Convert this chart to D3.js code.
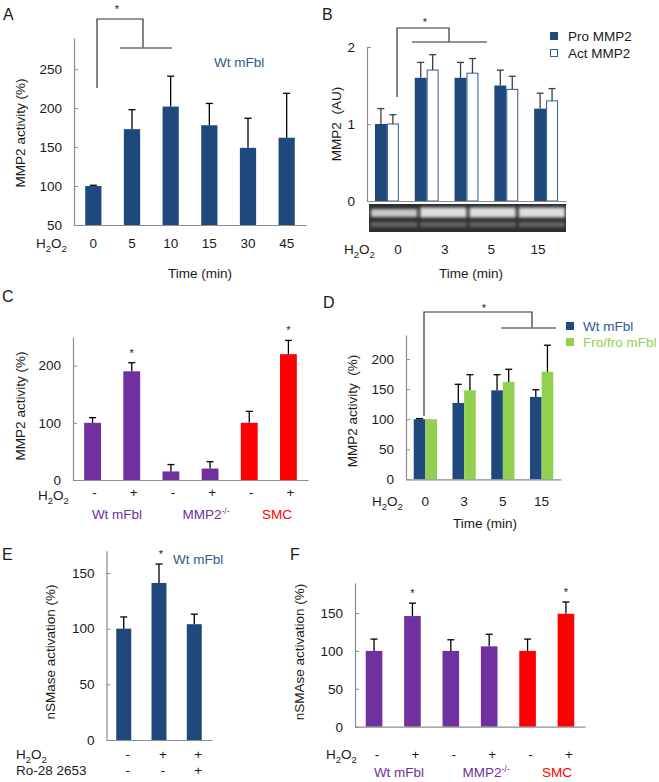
<!DOCTYPE html>
<html><head><meta charset="utf-8">
<script src="https://cdn.jsdelivr.net/npm/d3@7"></script>
<style>
body{margin:0;background:#fff;}
svg{display:block;}
</style></head><body>
<svg id="chart" width="659" height="782"></svg>
<script>
// ---------------- DATA ----------------
// Panel A
const aTimes = ["0","5","10","15","30","45"];
const aValues = [100,173,202,178,149,162];
const aErrors = [1,25,39,28,38,57];
const aTicks = [50,100,150,200,250];
// Panel B
const bGroups = ["1","2","3","4","5"];
const bSeries = ["Pro MMP2","Act MMP2"];
const bPro = [1.0,1.6,1.6,1.5,1.2];
const bProErr = [0.2,0.2,0.2,0.2,0.2];
const bAct = [1.0,1.7,1.66,1.45,1.3];
const bActErr = [0.12,0.2,0.19,0.17,0.16];
const bLanes = ["0","3","5","15"];
const bTicks = [0,1,2];
// Panel C
const cCats = ["Wt-","Wt+","KO-","KO+","SMC-","SMC+"];
const cGroup = ["Wt mFbl","Wt mFbl","MMP2","MMP2","SMC","SMC"];
const cTreat = ["-","+","-","+","-","+"];
const cValues = [100,190,15,20,100,220];
const cErrors = [9,15,12,12,20,24];
const cSig = [false,true,false,false,false,true];
const cTicks = [0,100,200];
// Panel D
const dTimes = ["0","3","5","15"];
const dSeries = ["Wt mFbl","Fro/fro mFbl"];
const dWt = [100,127,148,137];
const dWtErr = [1,31,26,12];
const dFro = [100,148,162,179];
const dFroErr = [0,26,21,44];
const dTicks = [0,50,100,150,200];
// Panel E
const eCats = ["c","h","hr"];
const eH2O2 = ["-","+","+"];
const eRo = ["-","-","+"];
const eValues = [100,141,104];
const eErrors = [10.5,17,9];
const eSig = [false,true,false];
const eTicks = [0,50,100,150];
// Panel F
const fCats = ["Wt-","Wt+","KO-","KO+","SMC-","SMC+"];
const fGroup = ["Wt mFbl","Wt mFbl","MMP2","MMP2","SMC","SMC"];
const fTreat = ["-","+","-","+","-","+"];
const fValues = [100,146,100,106,100,149];
const fErrors = [15.6,17,14.7,16,15.6,15.5];
const fSig = [false,true,false,false,false,true];
const fTicks = [0,50,100,150];

// ---------------- STYLE ----------------
const FONT = "Arial, 'Liberation Sans', Helvetica, sans-serif";
const BLUE="#1f497d", TBLUE="#2e5b8e", PURPLE="#7030a0", RED="#ff0000", GREEN="#92d050";
const AXIS="#8c8c8c", INK="#1a1a1a", FS=13.5;
const groupColor = {"Wt mFbl":PURPLE,"MMP2":PURPLE,"SMC":RED};

const svg = d3.select("#chart").attr("font-family",FONT);

function yAxis(y, x, ticks) {
  const g = svg.append("g").attr("transform",`translate(${x},0)`)
    .call(d3.axisLeft(y).tickValues(ticks).tickSizeInner(-4).tickSizeOuter(0).tickPadding(12).tickFormat(d3.format("d")));
  g.attr("font-family",FONT).attr("font-size",FS);
  g.select(".domain").attr("stroke",AXIS).attr("stroke-width",1.2);
  g.selectAll(".tick line").attr("stroke",AXIS);
  g.selectAll(".tick text").attr("fill",INK);
}
function xAxis(x, y0) {
  const g = svg.append("g").attr("transform",`translate(0,${y0})`)
    .call(d3.axisBottom(x).tickValues([]).tickSizeOuter(0));
  g.select(".domain").attr("stroke",AXIS).attr("stroke-width",1.2);
}
function text(x,y,s,opt={}) {
  return svg.append("text").attr("x",x).attr("y",y).attr("font-size",opt.size||FS)
    .attr("fill",opt.fill||INK).attr("text-anchor",opt.anchor||"start").text(s);
}
function yLabel(x,y,s) {
  svg.append("text").attr("transform",`translate(${x},${y}) rotate(-90)`).attr("dy","0.35em")
    .attr("text-anchor","middle").attr("font-size",FS).attr("fill",INK)
    .attr("xml:space","preserve").style("white-space","pre").text(s);
}
function h2o2(x,y) {
  const t = svg.append("text").attr("x",x).attr("y",y).attr("font-size",FS).attr("fill",INK);
  t.append("tspan").text("H");
  t.append("tspan").attr("font-size",9.5).attr("dy",3.5).text("2");
  t.append("tspan").attr("dy",-3.5).text("O");
  t.append("tspan").attr("font-size",9.5).attr("dy",3.5).text("2");
}
function mmpKO(x,y,fill) {
  const t = svg.append("text").attr("x",x).attr("y",y).attr("font-size",FS).attr("fill",fill).attr("text-anchor","middle");
  t.append("tspan").text("MMP2");
  t.append("tspan").attr("font-size",8.5).attr("dy",-5).text("-/-");
}
function errBars(rows, color, capW) {
  const g = svg.append("g").attr("stroke",color).attr("stroke-width",1.3);
  g.selectAll(".v").data(rows.filter(r=>r.e>0)).join("line")
    .attr("x1",r=>r.x).attr("x2",r=>r.x).attr("y1",r=>r.y1).attr("y2",r=>r.y2);
  g.selectAll(".c").data(rows.filter(r=>r.e>0)).join("line")
    .attr("x1",r=>r.x-capW/2).attr("x2",r=>r.x+capW/2).attr("y1",r=>r.y2).attr("y2",r=>r.y2);
}
function bracket(pts, gray) {
  svg.append("path").attr("d",d3.line()(pts)).attr("fill","none").attr("stroke","#333").attr("stroke-width",1.2);
  svg.append("line").attr("x1",gray[0]).attr("x2",gray[1]).attr("y1",gray[2]).attr("y2",gray[2])
    .attr("stroke","#707070").attr("stroke-width",1.6);
}
function star(x,y){ text(x,y,"*",{size:11,anchor:"middle",fill:"#222"}); }
function panelLabel(x,y,s){ text(x,y,s,{size:16}); }

// ================= PANEL A =================
{
  const x = d3.scaleBand(aTimes,[74,306]).paddingInner(0.58).paddingOuter(0.29);
  const y = d3.scaleLinear([50,290],[225,38]);
  const rows = aTimes.map((t,i)=>({t,v:aValues[i],e:aErrors[i]}));
  svg.append("g").selectAll("rect").data(rows).join("rect")
    .attr("x",d=>x(d.t)).attr("width",x.bandwidth())
    .attr("y",d=>y(d.v)).attr("height",d=>y(50)-y(d.v)).attr("fill",BLUE);
  errBars(rows.map(d=>({x:x(d.t)+x.bandwidth()/2,y1:y(d.v),y2:y(d.v+d.e),e:d.e})),"#000",7);
  yAxis(y,74,aTicks); xAxis(x,225);
  h2o2(36,248);
  aTimes.forEach(t=>text(x(t)+x.bandwidth()/2,248,t,{anchor:"middle"}));
  text(200,278,"Time (min)",{anchor:"middle"});
  yLabel(20,133,"MMP2 activity (%)");
  text(214,67,"Wt mFbl",{fill:TBLUE});
  bracket([[97,88],[97,19],[143,19],[143,48]],[120,172,48]);
  star(117,13);
  panelLabel(3,20,"A");
}

// ================= PANEL B =================
{
  const x = d3.scaleBand(bGroups,[367,566]).paddingInner(0.4).paddingOuter(0.2);
  const xi = d3.scaleBand(bSeries,[0,x.bandwidth()]);
  const y = d3.scaleLinear([0,2],[201,47]);
  const rows = [];
  bGroups.forEach((g,i)=>{
    rows.push({g,s:bSeries[0],v:bPro[i],e:bProErr[i]});
    rows.push({g,s:bSeries[1],v:bAct[i],e:bActErr[i]});
  });
  svg.append("g").selectAll("rect").data(rows).join("rect")
    .attr("x",d=>x(d.g)+xi(d.s)+(d.s===bSeries[1]?0.5:0))
    .attr("width",d=>xi.bandwidth()-(d.s===bSeries[1]?1:0))
    .attr("y",d=>y(d.v)).attr("height",d=>y(0)-y(d.v))
    .attr("fill",d=>d.s===bSeries[0]?BLUE:"#fff")
    .attr("stroke",d=>d.s===bSeries[0]?"none":"#2f5b8f").attr("stroke-width",1);
  errBars(rows.map(d=>({x:x(d.g)+xi(d.s)+xi.bandwidth()/2,y1:y(d.v),y2:y(d.v+d.e),e:d.e})),"#404040",7);
  yAxis(y,367,bTicks); xAxis(x,201);
  // gel image
  const defs = svg.append("defs");
  defs.append("filter").attr("id","blur").attr("x","-20%").attr("y","-50%").attr("width","140%").attr("height","200%")
    .append("feGaussianBlur").attr("stdDeviation",1.8);
  const lanes = d3.scaleBand(bLanes,[369,566]);
  svg.append("rect").attr("x",369).attr("y",204).attr("width",197).attr("height",28).attr("fill","#2e2e2e");
  const gel = svg.append("g").attr("filter","url(#blur)");
  gel.selectAll(".hi").data(bLanes).join("rect")
    .attr("x",l=>lanes(l)+2).attr("width",lanes.bandwidth()-3).attr("y",(l,i)=>i===0?209:207.5)
    .attr("height",(l,i)=>i===0?8:10).attr("fill","#eeeeee").attr("opacity",(l,i)=>i===0?0.8:0.92);
  gel.selectAll(".lo").data(bLanes).join("rect")
    .attr("x",l=>lanes(l)+2).attr("width",lanes.bandwidth()-3).attr("y",222).attr("height",5)
    .attr("fill","#aaa").attr("opacity",0.45);
  h2o2(344,254);
  const lp = d3.scalePoint(bLanes,[398,538]);
  bLanes.forEach(l=>text(lp(l),254,l,{anchor:"middle"}));
  text(471,278,"Time (min)",{anchor:"middle"});
  yLabel(336,124,"MMP2  (AU)");
  // legend
  svg.append("rect").attr("x",550).attr("y",32).attr("width",8).attr("height",8).attr("fill",BLUE);
  svg.append("rect").attr("x",550.5).attr("y",49.5).attr("width",7).attr("height",7).attr("fill","#fff").attr("stroke","#2f5b8f");
  text(568,41,bSeries[0]); text(568,58,bSeries[1]);
  bracket([[397,97],[397,28],[449,28],[449,42]],[412,487,42]);
  star(425,26);
  panelLabel(322,20,"B");
}

// ================= PANEL C =================
{
  const x = d3.scaleBand(cCats,[73,308]).paddingInner(0.57).paddingOuter(0.285);
  const y = d3.scaleLinear([0,250],[480,337]);
  const rows = cCats.map((c,i)=>({c,g:cGroup[i],v:cValues[i],e:cErrors[i],s:cSig[i],t:cTreat[i]}));
  svg.append("g").selectAll("rect").data(rows).join("rect")
    .attr("x",d=>x(d.c)).attr("width",x.bandwidth())
    .attr("y",d=>y(d.v)).attr("height",d=>y(0)-y(d.v)).attr("fill",d=>groupColor[d.g]);
  const cx = d=>x(d.c)+x.bandwidth()/2;
  errBars(rows.map(d=>({x:cx(d),y1:y(d.v),y2:y(d.v+d.e),e:d.e})),"#000",7);
  rows.filter(d=>d.s).forEach(d=>star(cx(d),y(d.v+d.e)-6));
  yAxis(y,73,cTicks); xAxis(x,480);
  h2o2(38,500);
  rows.forEach(d=>text(cx(d)+2,497,d.t,{anchor:"middle"}));
  text(117,519,"Wt mFbl",{fill:PURPLE,anchor:"middle"});
  mmpKO(206,519,PURPLE);
  text(277,519,"SMC",{fill:RED,anchor:"middle"});
  yLabel(20,406,"MMP2 activity (%)");
  panelLabel(2,302,"C");
}

// ================= PANEL D =================
{
  const x = d3.scaleBand(dTimes,[406,561]).paddingInner(0.4).paddingOuter(0.2);
  const xi = d3.scaleBand(dSeries,[0,x.bandwidth()]);
  const y = d3.scaleLinear([0,240],[479.3,335]);
  const rows = [];
  dTimes.forEach((t,i)=>{
    rows.push({t,s:dSeries[0],v:dWt[i],e:dWtErr[i]});
    rows.push({t,s:dSeries[1],v:dFro[i],e:dFroErr[i]});
  });
  const col = s=>s===dSeries[0]?BLUE:GREEN;
  svg.append("g").selectAll("rect").data(rows).join("rect")
    .attr("x",d=>x(d.t)+xi(d.s)).attr("width",xi.bandwidth())
    .attr("y",d=>y(d.v)).attr("height",d=>y(0)-y(d.v)).attr("fill",d=>col(d.s));
  errBars(rows.map(d=>({x:x(d.t)+xi(d.s)+xi.bandwidth()/2,y1:y(d.v),y2:y(d.v+d.e),e:d.e})),"#000",7);
  yAxis(y,406,dTicks); xAxis(x,479.3);
  h2o2(372,506);
  dTimes.forEach(t=>text(x(t)+x.bandwidth()/2,506,t,{anchor:"middle"}));
  text(485,528,"Time (min)",{anchor:"middle"});
  yLabel(352,411,"MMP2 activity  (%)");
  svg.append("rect").attr("x",566).attr("y",322).attr("width",8).attr("height",8).attr("fill",BLUE);
  svg.append("rect").attr("x",566).attr("y",338).attr("width",8).attr("height",8).attr("fill",GREEN);
  text(583,331,dSeries[0],{fill:TBLUE}); text(583,347,dSeries[1],{fill:GREEN});
  bracket([[424,416],[424,312],[532,312],[532,328]],[501,556,328]);
  star(484,312);
  panelLabel(323,308,"D");
}

// ================= PANEL E =================
{
  const x = d3.scaleBand(eCats,[106,212]).paddingInner(0.575).paddingOuter(0.29);
  const y = d3.scaleLinear([0,170],[740,550.7]);
  const rows = eCats.map((c,i)=>({c,v:eValues[i],e:eErrors[i],s:eSig[i]}));
  svg.append("g").selectAll("rect").data(rows).join("rect")
    .attr("x",d=>x(d.c)).attr("width",x.bandwidth())
    .attr("y",d=>y(d.v)).attr("height",d=>y(0)-y(d.v)).attr("fill",BLUE);
  const cx = d=>x(d.c)+x.bandwidth()/2;
  errBars(rows.map(d=>({x:cx(d),y1:y(d.v),y2:y(d.v+d.e),e:d.e})),"#000",7);
  rows.filter(d=>d.s).forEach(d=>star(cx(d)+2,y(d.v+d.e)-6));
  yAxis(y,106.5,eTicks); xAxis(x,740);
  h2o2(16,759);
  text(16,775,"Ro-28 2653");
  eCats.forEach((c,i)=>{
    text(x(c)+x.bandwidth()/2+4,759,eH2O2[i],{anchor:"middle"});
    text(x(c)+x.bandwidth()/2+4,775,eRo[i],{anchor:"middle"});
  });
  text(173,564,"Wt mFbl",{fill:TBLUE});
  yLabel(50,652,"nSMase activation (%)");
  panelLabel(2,560,"E");
}

// ================= PANEL F =================
{
  const x = d3.scaleBand(fCats,[355,585]).paddingInner(0.567).paddingOuter(0.28);
  const y = d3.scaleLinear([0,190],[726.7,582.7]);
  const rows = fCats.map((c,i)=>({c,g:fGroup[i],v:fValues[i],e:fErrors[i],s:fSig[i],t:fTreat[i]}));
  svg.append("g").selectAll("rect").data(rows).join("rect")
    .attr("x",d=>x(d.c)).attr("width",x.bandwidth())
    .attr("y",d=>y(d.v)).attr("height",d=>y(0)-y(d.v)).attr("fill",d=>groupColor[d.g]);
  const cx = d=>x(d.c)+x.bandwidth()/2;
  errBars(rows.map(d=>({x:cx(d),y1:y(d.v),y2:y(d.v+d.e),e:d.e})),"#000",7);
  rows.filter(d=>d.s).forEach(d=>star(cx(d),y(d.v+d.e)-6));
  yAxis(y,355,fTicks); xAxis(x,726.7);
  h2o2(326,759);
  rows.forEach(d=>text(cx(d)+3,759,d.t,{anchor:"middle"}));
  text(399,777,"Wt mFbl",{fill:PURPLE,anchor:"middle"});
  mmpKO(486,777,PURPLE);
  text(557,777,"SMC",{fill:RED,anchor:"middle"});
  yLabel(299,652,"nSMAse activation (%)");
  panelLabel(290,560,"F");
}
</script>
</body></html>
